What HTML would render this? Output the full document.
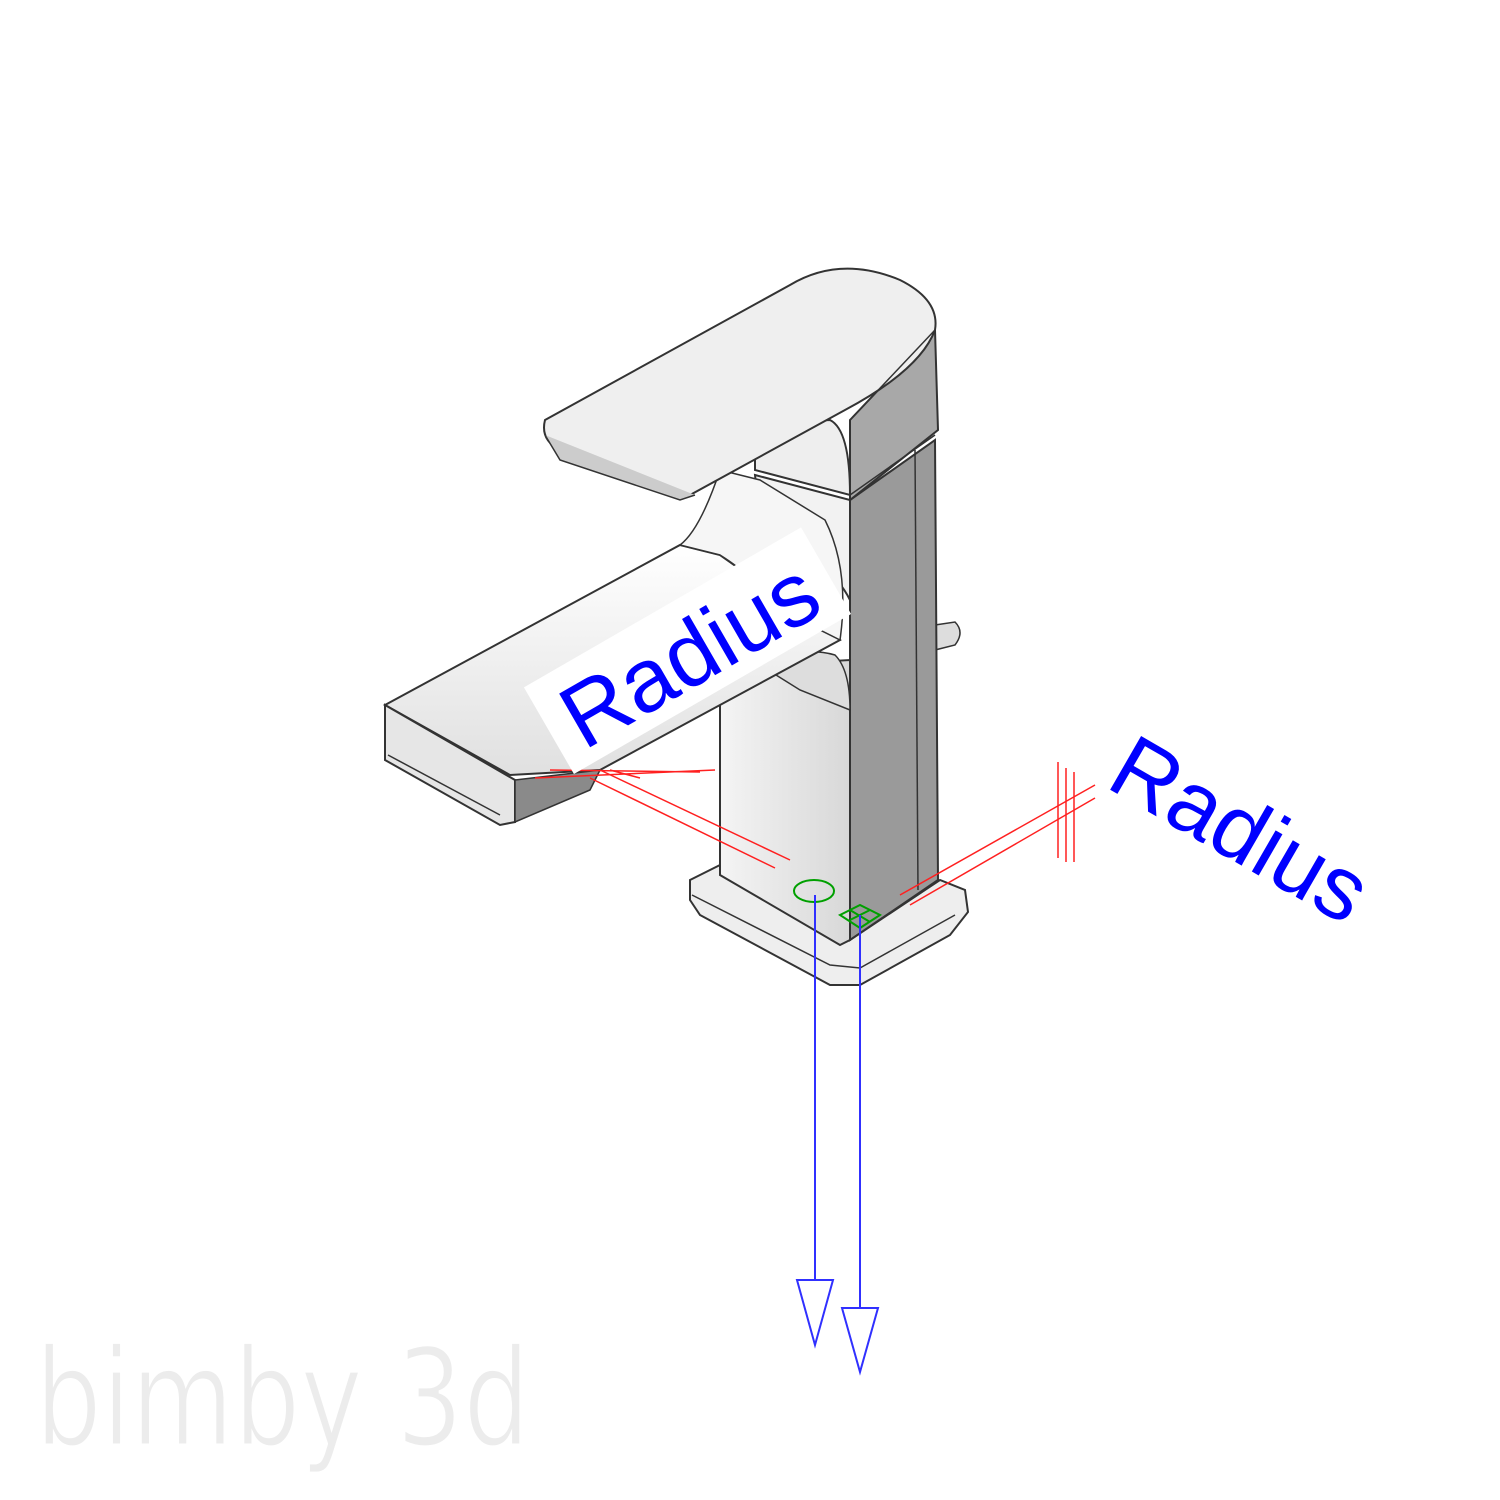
<!DOCTYPE html>
<html><head><meta charset="utf-8"><style>
html,body{margin:0;padding:0;background:#fff;}
svg{display:block}
</style></head><body>
<svg width="1500" height="1500" viewBox="0 0 1500 1500" xmlns="http://www.w3.org/2000/svg" font-family="Liberation Sans, sans-serif">
<defs>
<linearGradient id="g1" x1="0" y1="0" x2="1" y2="0"><stop offset="0" stop-color="#f4f4f4"/><stop offset="1" stop-color="#d8d8d8"/></linearGradient>
<linearGradient id="g2" x1="0" y1="0" x2="0" y2="1"><stop offset="0" stop-color="#ffffff"/><stop offset="1" stop-color="#e0e0e0"/></linearGradient>
</defs>
<!-- watermark -->
<text x="35" y="1445" font-size="135" fill="#ececec" stroke="#fff" stroke-width="3" font-family="DejaVu Sans, sans-serif" textLength="495" lengthAdjust="spacingAndGlyphs">bimby 3d</text>

<!-- base plate -->
<path d="M690,880 L720,865 L850,940 L940,880 L965,890 L968,912 L950,935 L860,985 L830,985 L700,915 L690,900 Z" fill="#eee" stroke="#333" stroke-width="2"/>
<path d="M692,895 L830,965 L860,968 L955,915" fill="none" stroke="#333" stroke-width="1.5"/>
<!-- pop-up rod -->
<path d="M935,625 L955,622 Q965,632 955,645 L935,650 Z" fill="#ddd" stroke="#333" stroke-width="1.5"/>
<!-- column right dark -->
<path d="M850,500 L935,440 L938,880 L850,940 Z" fill="#9a9a9a" stroke="#333" stroke-width="2"/>
<path d="M915,450 L918,890" stroke="#333" stroke-width="1.5"/>
<!-- column front -->
<path d="M720,700 Q725,680 760,665 L850,660 L850,940 L840,945 L720,875 Z" fill="url(#g1)" stroke="#333" stroke-width="2"/>
<path d="M755,475 L850,500 L850,600 Q830,560 760,520 Z" fill="#f2f2f2" stroke="#333" stroke-width="2"/>
<path d="M760,665 Q800,645 835,655 Q850,670 850,710 L800,690 Z" fill="#ddd" stroke="#333" stroke-width="1.5"/>
<!-- spout -->
<path d="M385,705 L680,545 L720,555 L840,640 L600,770 L510,775 Z" fill="url(#g2)" stroke="#333" stroke-width="2"/>
<path d="M385,705 L385,760 L500,825 L515,822 L515,780 Z" fill="#e6e6e6" stroke="#333" stroke-width="2"/>
<path d="M515,780 L600,770 L590,790 L515,822 Z" fill="#8a8a8a" stroke="#333" stroke-width="1.5"/>
<path d="M388,755 L500,815" stroke="#333" stroke-width="1.5"/>
<!-- upper neck curve -->
<path d="M720,470 Q700,530 680,545 L720,555 Q760,580 760,600 L840,640 Q850,570 825,520 L760,480 Z" fill="#f6f6f6" stroke="#333" stroke-width="1.5"/>
<!-- handle body -->
<path d="M850,420 L935,330 L938,430 L850,500 Z" fill="#a8a8a8" stroke="#333" stroke-width="2"/>
<path d="M755,455 Q790,420 830,420 Q850,430 850,495 L755,470 Z" fill="#eee" stroke="#333" stroke-width="2"/>
<!-- handle lever -->
<path d="M545,420 L790,285 Q840,255 900,280 Q940,300 935,330 Q920,370 845,410 L690,495 L560,450 Q540,440 545,420 Z" fill="#efefef" stroke="#333" stroke-width="2"/>
<path d="M545,435 L560,460 L680,500 L695,495" fill="#ccc" stroke="#333" stroke-width="1.5"/>
<path d="M850,420 L935,330" stroke="#333" stroke-width="1.5"/>
<path d="M850,495 L935,435" stroke="#333" stroke-width="1.5"/>

<!-- red lines -->
<g stroke="#ff2020" stroke-width="1.5" fill="none">
<path d="M535,778 L715,770"/><path d="M550,770 L700,772"/>
<path d="M600,770 L790,860"/><path d="M590,778 L775,868"/>
<path d="M610,770 L640,778"/>
<path d="M900,895 L1095,785"/><path d="M910,905 L1095,798"/>
<path d="M1058,762 L1058,858"/><path d="M1066,768 L1066,862"/><path d="M1074,772 L1074,862"/>
</g>
<!-- radius label 1 -->
<g transform="translate(690,655) rotate(-30)">
<rect x="-160" y="-55" width="320" height="100" fill="#fff"/>
<text x="0" y="30" font-size="90" fill="#0000ff" text-anchor="middle">Radius</text>
</g>
<!-- radius label 2 -->
<text transform="translate(1240,830) rotate(30)" x="0" y="30" font-size="90" fill="#0000ff" text-anchor="middle">Radius</text>

<!-- green -->
<ellipse cx="814" cy="891" rx="20" ry="11" fill="none" stroke="#00a000" stroke-width="2"/>
<path d="M840,915 L860,905 L880,915 L860,928 Z M850,910 L870,922 M850,920 L870,910" fill="none" stroke="#00a000" stroke-width="2"/>
<!-- blue arrows -->
<g stroke="#3030ff" stroke-width="2" fill="none">
<path d="M815,895 L815,1280"/>
<path d="M797,1280 L833,1280 L815,1345 Z"/>
<path d="M860,915 L860,1308"/>
<path d="M842,1308 L878,1308 L860,1372 Z"/>
</g>
</svg>
</body></html>
